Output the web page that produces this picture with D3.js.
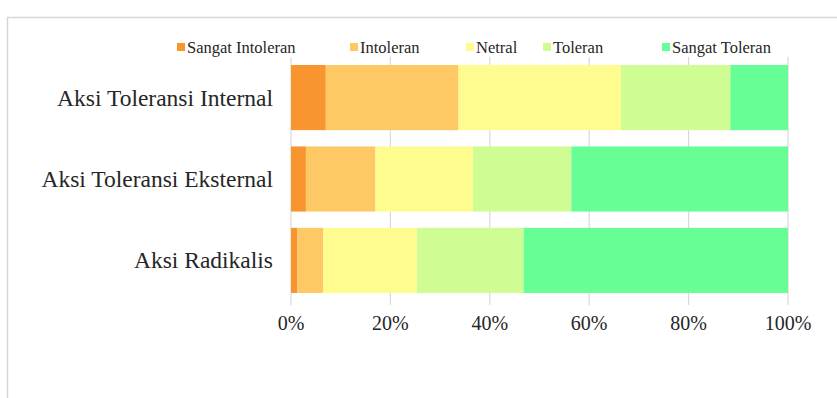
<!DOCTYPE html>
<html>
<head>
<meta charset="utf-8">
<script src="https://cdn.jsdelivr.net/npm/d3@7"></script>
<style>
    body { margin: 0; background: #fff; }
    text { font-family: 'Liberation Serif', 'Times New Roman', serif; fill: #262626; }
</style>
</head>
<body>
<div id="chart"></div>
<script>
const width = 837, height = 398;

const categories = ['Aksi Toleransi Internal', 'Aksi Toleransi Eksternal', 'Aksi Radikalis'];
const seriesNames = ['Sangat Intoleran', 'Intoleran', 'Netral', 'Toleran', 'Sangat Toleran'];
const seriesColors = ['#f8952f', '#fec865', '#fefc8f', '#cffd94', '#67fe95'];

// percentages per category, in series order
const sangatIntoleran = [7.0, 3.0, 1.3];
const intoleran = [26.7, 14.0, 5.2];
const netral = [32.7, 19.6, 18.8];
const toleran = [22.0, 19.8, 21.5];
const sangatToleran = [11.6, 43.6, 53.2];

const xTicks = [0, 0.2, 0.4, 0.6, 0.8, 1];

const margin = {left: 291, right: 49, top: 65, bottom: 105};

const svg = d3.select('#chart')
    .append('svg')
    .attr('width', width)
    .attr('height', height);

// chart frame (cropped excel border)
svg.append('rect')
    .attr('x', 7.5)
    .attr('y', 17.5)
    .attr('width', width)
    .attr('height', height)
    .attr('fill', 'none')
    .attr('stroke', '#d6d6d6')
    .attr('stroke-width', 1.5);

const x = d3.scaleLinear()
    .domain([0, 1])
    .range([margin.left, width - margin.right]);

const y = d3.scaleBand()
    .domain(categories)
    .range([margin.top, height - margin.bottom])
    .paddingInner(0.2)
    .paddingOuter(0);

// gridlines
svg.append('g')
    .selectAll('line')
    .data(xTicks)
    .enter()
    .append('line')
    .attr('x1', d => x(d))
    .attr('x2', d => x(d))
    .attr('y1', margin.top - 8)
    .attr('y2', height - margin.bottom + 12)
    .attr('stroke', '#d9d9d9')
    .attr('stroke-width', 1.2);

const rows = categories.map((c, i) => {
    const vals = [sangatIntoleran[i], intoleran[i], netral[i], toleran[i], sangatToleran[i]];
    const total = d3.sum(vals);
    let acc = 0;
    return vals.map((v, j) => {
        const start = acc / total;
        acc += v;
        return {category: c, series: j, x0: start, x1: acc / total};
    });
});

svg.append('g')
    .selectAll('rect')
    .data(rows.flat())
    .enter()
    .append('rect')
    .attr('x', d => x(d.x0))
    .attr('width', d => x(d.x1) - x(d.x0))
    .attr('y', d => y(d.category))
    .attr('height', y.bandwidth())
    .attr('fill', d => seriesColors[d.series]);

// x axis labels
svg.append('g')
    .selectAll('text')
    .data(xTicks)
    .enter()
    .append('text')
    .attr('x', d => x(d))
    .attr('y', height - margin.bottom + 30)
    .attr('text-anchor', 'middle')
    .attr('dominant-baseline', 'central')
    .style('font-size', '20px')
    .text(d => d3.format('.0%')(d));

// category labels
svg.append('g')
    .selectAll('text')
    .data(categories)
    .enter()
    .append('text')
    .attr('x', margin.left - 18)
    .attr('y', d => y(d) + y.bandwidth() / 2)
    .attr('text-anchor', 'end')
    .attr('dominant-baseline', 'central')
    .style('font-size', '23.5px')
    .text(d => d);

// legend
const legendX = [177, 350, 466, 543, 662];
const legend = svg.append('g')
    .selectAll('g')
    .data(seriesNames)
    .enter()
    .append('g')
    .attr('transform', (d, i) => `translate(${legendX[i]}, 47)`);

legend.append('rect')
    .attr('x', 0)
    .attr('y', -4)
    .attr('width', 8)
    .attr('height', 8)
    .attr('fill', (d, i) => seriesColors[i]);

legend.append('text')
    .attr('x', 10)
    .attr('y', 0)
    .attr('dominant-baseline', 'central')
    .style('font-size', '16.5px')
    .text(d => d);
</script>
</body>
</html>
